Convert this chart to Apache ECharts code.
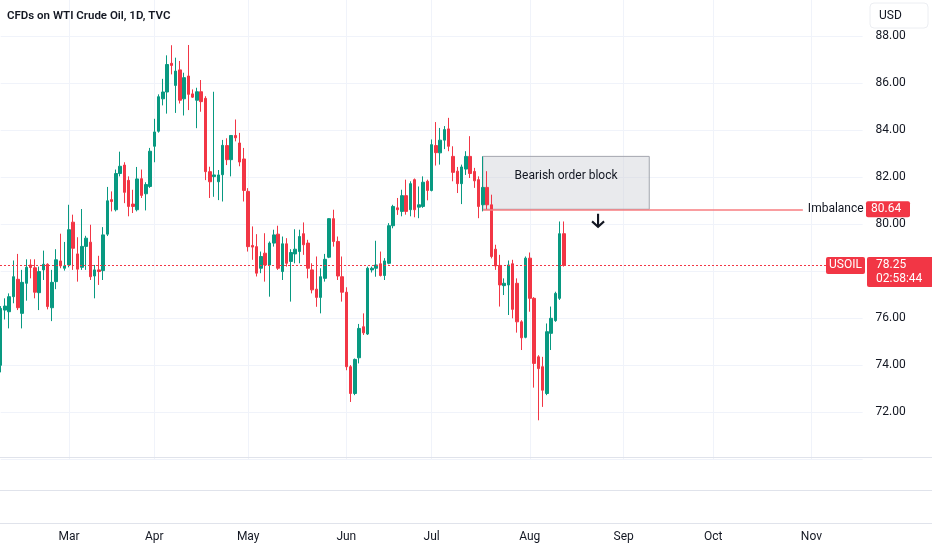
<!DOCTYPE html>
<html>
<head>
<meta charset="utf-8">
<script src="https://cdn.jsdelivr.net/npm/echarts@6/dist/echarts.min.js"></script>
<style>
html,body{margin:0;padding:0;background:#ffffff;}
#chart{width:932px;height:550px;}
</style>
</head>
<body>
<div id="chart"></div>
<script>
// ---- data ----
const titleText = 'CFDs on WTI Crude Oil, 1D, TVC';
const startDate = '2024-02-08';
const skipDates = ['2024-03-29'];
const slotCount = 203;
const monthNames = ['Jan','Feb','Mar','Apr','May','Jun','Jul','Aug','Sep','Oct','Nov','Dec'];

const openPrices = [
74.00,76.35,76.28,76.92,77.66,76.21,77.49,78.27,78.15,77.09,
78.06,78.30,76.45,77.56,78.44,78.13,78.27,80.09,78.74,78.17,
79.06,79.24,77.80,78.06,78.03,79.58,81.05,80.62,82.16,82.52,
81.87,80.86,80.62,81.94,81.30,81.61,83.32,83.96,85.34,85.63,
86.85,85.91,86.57,85.34,86.31,85.55,85.28,85.64,85.36,82.24,
82.03,81.81,82.11,83.35,82.75,83.78,83.46,82.78,81.40,79.10,
79.05,78.13,78.77,78.27,79.20,79.58,77.99,79.17,78.42,78.74,
78.84,79.60,79.20,78.06,77.24,76.89,77.70,78.60,80.24,79.27,
77.77,77.11,73.94,72.80,74.32,75.64,75.33,78.06,78.13,78.32,
77.82,78.34,79.94,80.70,80.55,81.22,80.62,81.90,80.73,80.76,
81.83,81.44,83.35,83.04,83.58,84.06,82.89,82.26,81.73,82.35,
82.89,82.25,81.90,80.83,81.57,80.83,78.94,78.25,77.39,77.42,
78.32,77.49,75.85,75.19,78.56,76.85,74.36,73.94,72.80,75.36,
75.90,76.85,79.60
];
const closePrices = [
76.42,76.52,76.92,77.77,76.45,77.53,78.17,78.16,77.11,77.99,
78.30,76.50,77.53,78.49,78.23,78.23,79.77,78.98,78.09,79.06,
79.41,77.77,78.06,77.99,79.55,81.00,80.97,82.16,82.47,81.36,
80.76,80.76,81.93,81.23,81.69,83.11,83.93,85.43,85.63,86.80,
86.76,86.52,85.28,86.24,85.53,85.41,85.64,85.22,82.24,81.81,
82.10,82.10,83.36,82.75,83.78,83.68,82.65,81.44,79.05,79.03,
77.92,78.63,78.27,79.20,79.55,78.13,79.17,78.34,78.80,78.94,
79.48,79.13,78.13,77.21,76.89,77.77,78.51,80.24,79.27,77.80,
77.11,73.94,72.80,74.25,75.57,75.38,78.13,78.13,78.27,77.82,
78.44,79.94,80.76,80.62,81.22,80.55,81.73,80.62,80.83,81.79,
81.44,83.39,83.05,83.58,84.03,83.32,82.21,81.73,82.44,82.89,
82.16,81.85,80.76,81.57,80.83,78.63,78.23,77.42,77.49,78.27,
76.38,75.85,75.17,78.56,76.85,74.08,73.86,72.94,75.43,76.00,
77.06,79.60,78.25
];
const lowPrices = [
73.70,75.95,75.57,76.64,76.35,75.57,76.75,77.70,76.85,76.35,
77.63,76.38,75.88,77.24,78.13,78.03,78.17,78.06,77.56,78.06,
78.06,77.63,76.85,77.42,77.63,79.50,80.55,80.55,82.04,80.90,
80.34,80.48,80.55,81.12,80.59,81.55,82.64,83.90,85.06,84.71,
86.38,84.74,85.14,84.63,84.86,85.38,84.09,84.79,81.88,81.12,
81.17,81.03,80.97,82.52,82.04,83.53,82.47,80.97,78.84,78.49,
77.78,77.92,77.56,76.92,79.05,78.06,77.63,78.20,76.71,78.34,
78.34,78.70,77.70,77.06,76.49,76.21,77.56,78.56,79.05,77.63,
76.71,73.79,72.44,72.73,74.08,75.29,75.29,77.95,77.77,77.78,
77.63,78.30,79.83,80.40,80.34,80.41,80.34,80.30,80.26,80.70,
81.02,81.40,82.50,82.54,83.20,83.11,81.83,81.33,80.86,82.10,
81.97,81.55,80.26,80.55,80.62,78.55,78.06,76.50,76.99,76.14,
76.00,75.39,74.65,75.15,76.28,73.05,71.66,72.23,72.73,74.65,
75.85,76.78,78.20
];
const highPrices = [
76.52,76.85,77.06,78.46,78.74,78.06,78.51,78.51,78.51,78.20,
78.88,78.34,78.06,78.94,79.60,79.25,80.83,80.41,79.45,80.65,
79.51,79.98,78.27,78.66,79.88,81.59,81.40,82.33,83.09,82.64,
82.04,81.47,82.44,82.33,81.79,83.25,84.49,85.53,86.19,87.19,
87.62,87.09,86.95,86.45,87.63,85.74,85.81,86.14,85.45,82.45,
85.64,82.31,83.59,83.66,83.80,84.46,83.89,83.25,81.54,79.91,
79.58,78.84,79.62,79.27,79.77,79.94,79.48,79.41,78.94,79.79,
79.77,80.08,79.34,78.34,78.63,78.13,78.74,80.26,80.62,79.48,
78.63,77.32,74.01,74.29,75.76,76.21,78.20,78.20,79.30,78.84,
78.56,80.05,80.83,81.12,81.47,81.90,81.83,81.95,81.61,82.04,
81.90,83.61,84.35,84.10,84.18,84.53,83.32,82.44,82.54,83.11,
83.75,82.40,82.04,82.89,82.26,81.26,79.13,78.70,77.70,78.46,
78.49,77.70,75.92,78.63,78.80,76.90,74.43,74.36,75.78,76.50,
77.13,80.12,80.12
];

const lastPrice = 78.25;
const countdownText = '02:58:44';
const symbolText = 'USOIL';
const currencyText = 'USD';
const imbalancePrice = 80.64;
const imbalanceText = 'Imbalance';
const blockTopPrice = 82.89;
const blockText = 'Bearish order block';
const blockStartIndex = 113;
const blockEndIndex = 152;
const imbalanceEndIndex = 188;
const arrowIndex = 140;
const arrowPrice = 80.17;

// ---- styling ----
const UP = '#089981';
const DOWN = '#f23645';
const TEXT = '#131722';
const GRID = '#f0f3fa';
const SEP = '#e0e3eb';
const FONT = 'Roboto, "Liberation Sans", sans-serif';

// trading-day slots (weekdays, minus market holidays listed above)
function buildDays() {
  const out = [];
  const d = new Date(startDate + 'T00:00:00Z');
  while (out.length < slotCount) {
    const wd = d.getUTCDay();
    const s = d.toISOString().slice(0, 10);
    if (wd !== 0 && wd !== 6 && skipDates.indexOf(s) < 0) out.push(s);
    d.setUTCDate(d.getUTCDate() + 1);
  }
  return out;
}
const days = buildDays();
function isMonthStart(i) {
  if (i <= 0) return false;
  return days[i].slice(5, 7) !== days[i - 1].slice(5, 7);
}

const candles = openPrices.map((o, i) => [o, closePrices[i], lowPrices[i], highPrices[i]]);

const chart = echarts.init(document.getElementById('chart'), null, {renderer: 'canvas'});

const option = {
  animation: false,
  backgroundColor: '#ffffff',
  textStyle: {fontFamily: FONT},
  grid: {left: 0.7, right: 69.4, top: -10.7, bottom: 90.7, containLabel: false, outerBoundsMode: 'none'},
  xAxis: {
    type: 'category',
    data: days,
    boundaryGap: false,
    axisLine: {show: false},
    axisTick: {show: false},
    axisLabel: {
      interval: (idx) => isMonthStart(idx),
      formatter: (v) => monthNames[parseInt(v.slice(5, 7), 10) - 1],
      color: TEXT,
      fontSize: 12,
      fontFamily: FONT,
      margin: 72
    },
    splitLine: {show: true, interval: (idx) => isMonthStart(idx), lineStyle: {color: GRID, width: 1}}
  },
  yAxis: {
    type: 'value',
    position: 'right',
    min: 70,
    max: 90,
    interval: 2,
    axisLine: {show: false},
    axisTick: {show: false},
    axisLabel: {
      color: TEXT,
      fontSize: 12,
      fontFamily: FONT,
      margin: 13,
      showMinLabel: false,
      showMaxLabel: false,
      formatter: (v) => v.toFixed(2)
    },
    splitLine: {show: true, lineStyle: {color: GRID, width: 1}}
  },
  series: [{
    type: 'candlestick',
    data: candles,
    barWidth: 3,
    clip: false,
    z: 3,
    itemStyle: {color: UP, color0: DOWN, borderColor: UP, borderColor0: DOWN, borderWidth: 1},
    markArea: {
      silent: true,
      itemStyle: {color: 'rgba(206,209,216,0.45)', borderColor: '#a3a6af', borderWidth: 1},
      label: {show: true, position: 'inside', formatter: blockText, color: TEXT, fontSize: 12, fontFamily: FONT, offset: [0, -7]},
      data: [[
        {xAxis: days[blockStartIndex], yAxis: blockTopPrice},
        {xAxis: days[blockEndIndex], yAxis: imbalancePrice}
      ]]
    },
    markLine: {
      silent: true,
      animation: false,
      symbol: ['none', 'none'],
      label: {show: false},
      data: [
        [
          {coord: [days[blockStartIndex], imbalancePrice],
           lineStyle: {color: '#f77c80', width: 1.5, type: 'solid'},
           label: {show: true, position: 'end', formatter: imbalanceText, color: TEXT, fontSize: 12, fontFamily: FONT, distance: 5}},
          {coord: [days[imbalanceEndIndex], imbalancePrice]}
        ]
      ]
    },
    markPoint: {
      silent: true,
      symbol: 'path://M6,0L6,13M0.5,7.5L6,13L11.5,7.5',
      symbolSize: [12, 13],
      itemStyle: {color: 'none', borderColor: TEXT, borderWidth: 2.2},
      label: {show: false},
      data: [{coord: [days[arrowIndex], arrowPrice]}]
    }
  }]
};
chart.setOption(option);

const yImb = chart.convertToPixel({yAxisIndex: 0}, imbalancePrice);
const yLast = chart.convertToPixel({yAxisIndex: 0}, lastPrice);
const yLastCrisp = Math.round(yLast) + 0.5;
const W = 932;

chart.setOption({
  graphic: [
    {type: 'line', z: 40, silent: true, shape: {x1: 0, y1: yLastCrisp, x2: 862, y2: yLastCrisp},
     style: {stroke: DOWN, lineWidth: 1, lineDash: [2, 2]}},
    {type: 'line', z: 50, shape: {x1: 0, y1: 457.5, x2: W, y2: 457.5}, style: {stroke: SEP, lineWidth: 1}},
    {type: 'line', z: 50, shape: {x1: 0, y1: 490.5, x2: W, y2: 490.5}, style: {stroke: SEP, lineWidth: 1}},
    {type: 'line', z: 50, shape: {x1: 0, y1: 523.5, x2: W, y2: 523.5}, style: {stroke: SEP, lineWidth: 1}},
    {type: 'text', z: 50, x: 7, y: 16, style: {text: titleText, fill: TEXT, font: '600 11.5px ' + FONT, verticalAlign: 'middle', align: 'left'}},
    {type: 'rect', z: 50, shape: {x: 870, y: 3, width: 58, height: 25, r: 4}, style: {fill: '#ffffff', stroke: '#eceef2', lineWidth: 1}},
    {type: 'text', z: 51, x: 879, y: 16, style: {text: currencyText, fill: TEXT, font: '12px ' + FONT, verticalAlign: 'middle', align: 'left'}},
    {type: 'rect', z: 50, shape: {x: 866, y: yImb - 8, width: 44, height: 16, r: 2}, style: {fill: DOWN}},
    {type: 'text', z: 51, x: 871, y: yImb, style: {text: imbalancePrice.toFixed(2), fill: '#ffffff', font: '12px ' + FONT, verticalAlign: 'middle', align: 'left'}},
    {type: 'rect', z: 50, shape: {x: 826, y: yLast - 8.5, width: 39, height: 17, r: 2}, style: {fill: DOWN}},
    {type: 'text', z: 51, x: 845.5, y: yLast, style: {text: symbolText, fill: '#ffffff', font: '12px ' + FONT, verticalAlign: 'middle', align: 'center'}},
    {type: 'rect', z: 50, shape: {x: 867, y: yLast - 8.5, width: 66, height: 30, r: 2}, style: {fill: DOWN}},
    {type: 'text', z: 51, x: 876, y: yLast, style: {text: lastPrice.toFixed(2), fill: '#ffffff', font: '12px ' + FONT, verticalAlign: 'middle', align: 'left'}},
    {type: 'text', z: 51, x: 876, y: yLast + 13.5, style: {text: countdownText, fill: '#ffffff', font: '12px ' + FONT, verticalAlign: 'middle', align: 'left'}}
  ]
});
</script>
</body>
</html>
